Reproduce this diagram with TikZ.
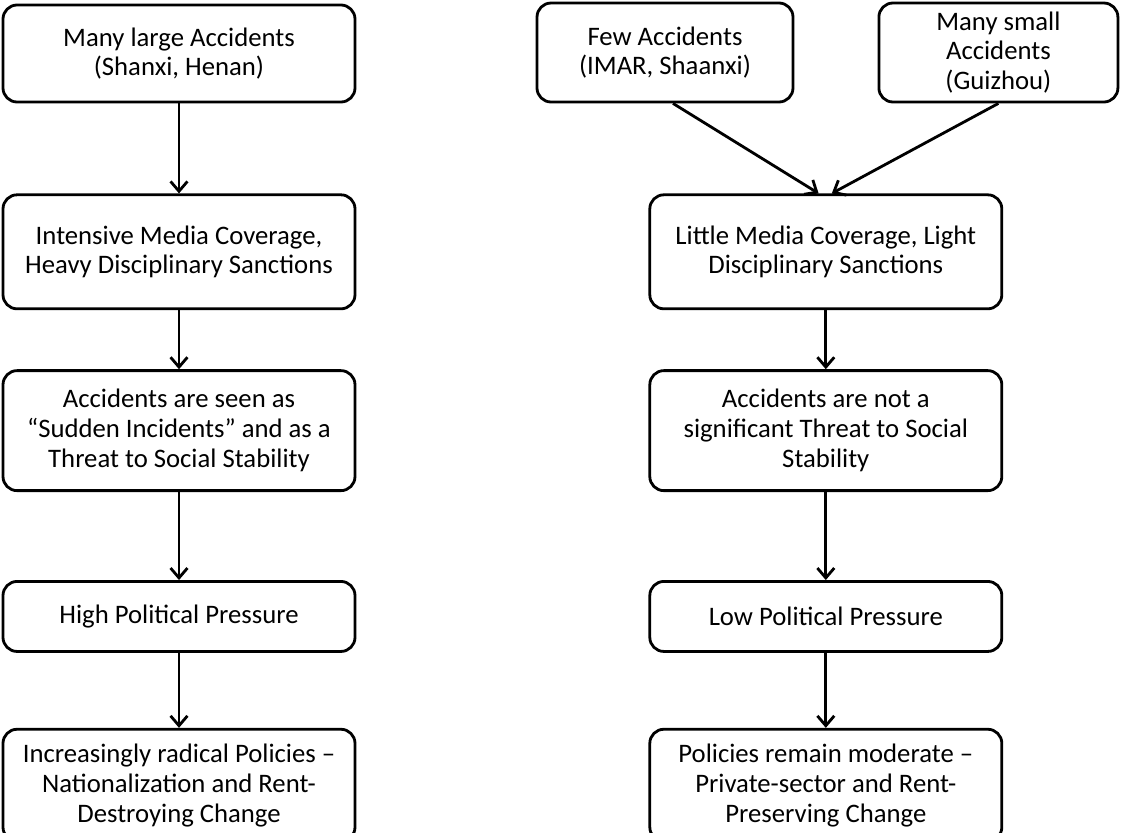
\documentclass[tikz,border=0pt]{standalone}
\usepackage{fontspec}
\setmainfont{Carlito}
\usetikzlibrary{arrows.meta,positioning}

\begin{document}
\begin{tikzpicture}[
    node distance=2cm,
    box/.style={rectangle, draw, line width=2pt, rounded corners=10pt, align=center, minimum width=8.8cm, font=\fontsize{19}{21.2}\selectfont},
    arrow/.style={-{Straight Barb[length=7pt,width=12pt]}, line width=2pt}
]
\useasboundingbox (0,0) rectangle (28.05,-20.8);

% Left chain
\node[box, minimum height=2.425cm] at (4.475,-1.3375) (large) {Many large Accidents\\(Shanxi, Henan)};
\node[box, minimum height=2.85cm, below=2.25cm of large] (media1) {Intensive Media Coverage,\\Heavy Disciplinary Sanctions};
\node[box, minimum height=3cm, below=1.475cm of media1] (threat1) {Accidents are seen as\\“Sudden Incidents” and as a\\Threat to Social Stability};
\node[box, minimum height=1.75cm, below=2.2cm of threat1] (press1) {High Political Pressure};
\node[box, minimum height=2.8cm, below=1.875cm of press1] (policy1) {Increasingly radical Policies --\\Nationalization and Rent-\\Destroying Change};

% Right top
\node[box, minimum width=6.4cm, minimum height=2.475cm] at (16.625,-1.3125) (few) {Few Accidents\\(IMAR, Shaanxi)};
\node[box, minimum width=5.975cm, minimum height=2.475cm] at (24.96,-1.3125) (small) {Many small\\Accidents\\(Guizhou)};

% Right chain
\node[box, minimum height=2.85cm, right=7.3cm of media1] (media2) {Little Media Coverage, Light\\Disciplinary Sanctions};
\node[box, minimum height=3cm, right=7.3cm of threat1] (threat2) {Accidents are not a\\significant Threat to Social\\Stability};
\node[box, minimum height=1.75cm, right=7.3cm of press1] (press2) {Low Political Pressure};
\node[box, minimum height=2.8cm, right=7.3cm of policy1] (policy2) {Policies remain moderate --\\Private-sector and Rent-\\Preserving Change};

% Arrows
\draw[arrow] (large) -- (media1);
\draw[arrow] (media1) -- (threat1);
\draw[arrow] (threat1) -- (press1);
\draw[arrow] (press1) -- (policy1);

\draw[arrow] ([xshift=0.2cm]few.south) -- ([xshift=-0.18cm]media2.north);
\draw[arrow] (small.south) -- ([xshift=0.15cm]media2.north);
\draw[arrow] (media2) -- (threat2);
\draw[arrow] (threat2) -- (press2);
\draw[arrow] (press2) -- (policy2);

\end{tikzpicture}
\end{document}
